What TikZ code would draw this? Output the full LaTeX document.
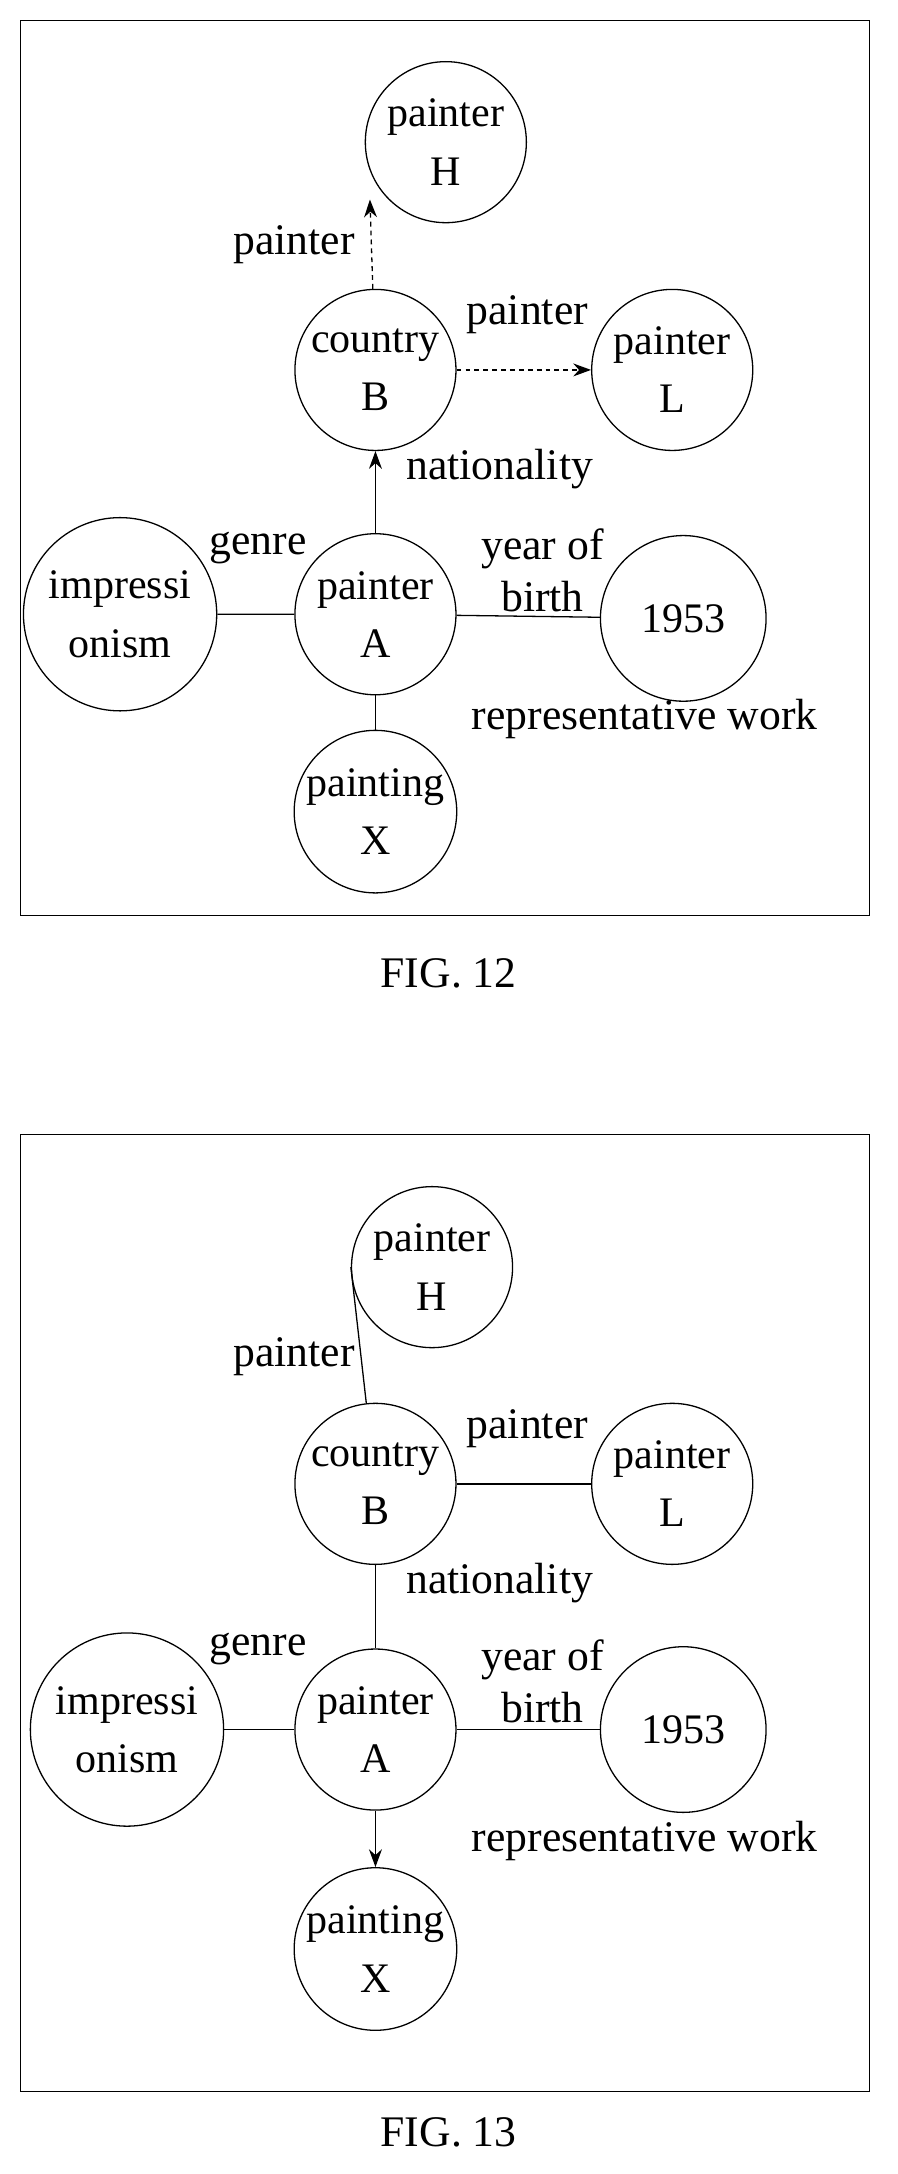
\documentclass[tikz,border=0pt]{standalone}
\usepackage{fontspec}
\setmainfont{Liberation Serif}
\usepackage{tikz}
\usetikzlibrary{arrows.meta}
\tikzset{ent/.style={circle,draw,thick,minimum size=3.5cm,inner sep=0pt,align=center,font=\fontsize{26}{36}\selectfont},
  lbl/.style={font=\fontsize{27}{32}\selectfont,align=center},
  dots/.style={dash pattern=on 3pt off 2.5pt}}
\begin{document}
\begin{tikzpicture}[x=0.03cm,y=-0.03cm,>={Stealth[length=11pt,width=8pt]},thick]
    \useasboundingbox (0,0) rectangle (650,1575);

    % FIG. 12
    \draw (15,15) rectangle (630,663);
    \node[ent] (H1) at (323,103) {painter\\H};
    \node[ent] (B1) at (272,268) {country\\B};
    \node[ent] (L1) at (487,268) {painter\\L};
    \node[ent] (A1) at (272,445) {painter\\A};
    \node[ent,minimum size=4.2cm] (I1) at (87,445) {impressi\\onism};
    \node[ent,minimum size=3.6cm] (Y1) at (495,448) {1953};
    \node[ent] (X1) at (272,588) {painting\\X};
    \node[lbl] at (213,177) {painter};
    \node[lbl] at (382,228) {painter};
    \node[lbl] at (362,340) {nationality};
    \node[lbl] at (187,397) {genre};
    \node[lbl] at (393,413) {year of\\birth};
    \node[lbl] at (467,521) {representative work};
    \node[lbl] at (325,705) {FIG. 12};

    \path[->]
      (B1) edge[dots] (H1.south west -| 268,0)
      (B1) edge[dots] (L1)
      (A1) edge (B1);
    \draw (I1) -- (A1) -- (Y1);
    \draw (A1) -- (X1);

    % FIG. 13
    \draw (15,822) rectangle (630,1515);
    \node[ent] (H2) at (313,918) {painter\\H};
    \node[ent] (B2) at (272,1075) {country\\B};
    \node[ent] (L2) at (487,1075) {painter\\L};
    \node[ent] (A2) at (272,1253) {painter\\A};
    \node[ent,minimum size=4.2cm] (I2) at (92,1253) {impressi\\onism};
    \node[ent,minimum size=3.6cm] (Y2) at (495,1253) {1953};
    \node[ent] (X2) at (272,1412) {painting\\X};
    \node[lbl] at (213,983) {painter};
    \node[lbl] at (382,1035) {painter};
    \node[lbl] at (362,1147) {nationality};
    \node[lbl] at (187,1195) {genre};
    \node[lbl] at (393,1218) {year of\\birth};
    \node[lbl] at (467,1334) {representative work};
    \node[lbl] at (325,1545) {FIG. 13};

    \draw (H2.180) -- (B2);
    \draw (B2) -- (L2);
    \draw (B2) -- (A2);
    \draw (I2) -- (A2) -- (Y2);
    \draw[->] (A2) -- (X2);
\end{tikzpicture}
\end{document}
